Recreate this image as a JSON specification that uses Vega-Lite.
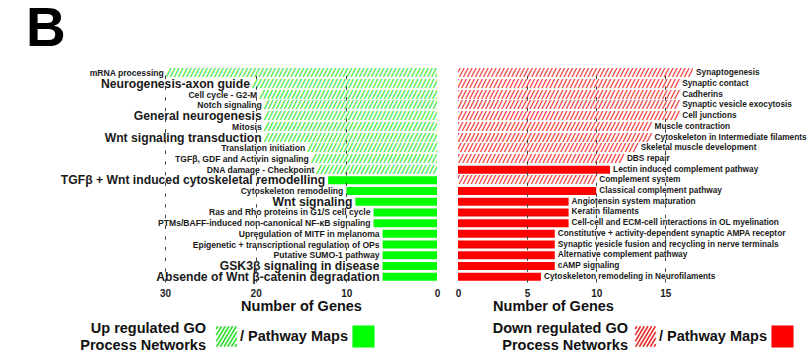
{
  "$schema": "https://vega.github.io/schema/vega-lite/v6.json",
  "autosize": {"type": "none"},
  "padding": {"left": 165, "top": 68, "right": 647, "bottom": 289},
  "background": "white",
  "config": {"view": {"stroke": null}, "font": "Liberation Sans"},
  "title": {"text": "B", "anchor": "start", "frame": "group", "fontSize": 55, "fontWeight": "bold", "font": "Liberation Sans", "color": "#000", "dx": -139, "offset": 10},
  "spacing": 21,
  "bounds": "flush",
  "resolve": {
    "scale": {"x": "independent", "y": "independent", "fill": "independent", "stroke": "independent", "shape": "independent"},
    "legend": {"fill": "independent", "stroke": "independent", "shape": "independent"}
  },
  "hconcat": [
    {
      "width": 272,
      "height": 214,
      "data": {"values": [
        {"name": "mRNA processing", "genes": 29.8, "type": "GO", "emph": false},
        {"name": "Neurogenesis-axon guide", "genes": 20.3, "type": "GO", "emph": true},
        {"name": "Cell cycle - G2-M", "genes": 19.5, "type": "GO", "emph": false},
        {"name": "Notch signaling", "genes": 19, "type": "GO", "emph": false},
        {"name": "General neurogenesis", "genes": 19, "type": "GO", "emph": true},
        {"name": "Mitosis", "genes": 19, "type": "GO", "emph": false},
        {"name": "Wnt signaling transduction", "genes": 19, "type": "GO", "emph": true},
        {"name": "Translation initiation", "genes": 14.2, "type": "GO", "emph": false},
        {"name": "TGFβ, GDF and Activin signaling", "genes": 13.8, "type": "GO", "emph": false},
        {"name": "DNA damage - Checkpoint", "genes": 13.2, "type": "GO", "emph": false},
        {"name": "TGFβ + Wnt induced cytoskeletal remodelling", "genes": 12, "type": "Pathway", "emph": true},
        {"name": "Cytoskeleton remodeling", "genes": 10, "type": "Pathway", "emph": false},
        {"name": "Wnt signaling", "genes": 9, "type": "Pathway", "emph": true},
        {"name": "Ras and Rho proteins in G1/S cell cycle", "genes": 7, "type": "Pathway", "emph": false},
        {"name": "PTMs/BAFF-induced non-canonical NF-κB signaling", "genes": 7, "type": "Pathway", "emph": false},
        {"name": "Upregulation of MITF in melanoma", "genes": 6, "type": "Pathway", "emph": false},
        {"name": "Epigenetic + transcriptional regulation of OPs", "genes": 6, "type": "Pathway", "emph": false},
        {"name": "Putative SUMO-1 pathway", "genes": 6, "type": "Pathway", "emph": false},
        {"name": "GSK3β signaling in disease", "genes": 6, "type": "Pathway", "emph": true},
        {"name": "Absende of Wnt β-catenin degradation", "genes": 6, "type": "Pathway", "emph": true}
      ]},
      "encoding": {
        "y": {"field": "name", "type": "nominal", "sort": null, "axis": null, "scale": {"paddingInner": 0.25, "paddingOuter": 0.125}},
        "x": {
          "field": "genes", "type": "quantitative",
          "scale": {"domain": [0, 30], "reverse": true, "nice": false},
          "axis": {
            "values": [0, 10, 20, 30], "title": "Number of Genes", "grid": true,
            "gridDash": [3.5, 7.2], "gridColor": "#444", "gridWidth": 1,
            "gridOpacity": {"condition": {"test": "datum.value === 0", "value": 0}, "value": 1},
            "ticks": false, "domain": false, "labelFlush": false, "labelOverlap": false,
            "labelFontSize": 10, "labelFont": "Liberation Sans", "labelFontWeight": "bold", "labelColor": "#222", "labelPadding": 6,
            "titleFontSize": 14.5, "titleFontWeight": "bold", "titleFont": "Liberation Sans", "titleColor": "#111", "titlePadding": 1,
            "zindex": 1
          }
        }
      },
      "layer": [
        {
          "mark": {"type": "bar"},
          "encoding": {"fill": {"condition": {"test": "datum.type === 'Pathway'", "value": "#00ff00"}, "value": "transparent"}}
        },
        {
          "mark": {"type": "text", "text": "//////////////////////////////////////////////////////////////////////////////////////////", "align": "left", "baseline": "middle", "clip": true, "font": "DejaVu Sans", "fontWeight": "bold", "fontStyle": "italic", "fontSize": 11, "color": "#33e633"},
          "encoding": {"opacity": {"condition": {"test": "datum.type === 'GO'", "value": 1}, "value": 0}}
        },
        {
          "mark": {"type": "text", "align": "right", "baseline": "middle", "dx": -3, "fontWeight": "bold", "font": "Liberation Sans", "color": "#1a1a1a"},
          "encoding": {
            "text": {"field": "name"},
            "size": {"condition": {"test": "datum.emph", "value": 12.2}, "value": 8.6}
          }
        },
        {
          "mark": {"type": "point", "opacity": 0, "strokeWidth": 1.6},
          "encoding": {
            "fill": {"field": "type", "type": "nominal", "scale": {"domain": ["GO", "Pathway"], "range": ["transparent", "#00ff00"]},
              "legend": {"title": ["Up regulated GO", "Process Networks"], "orient": "none", "legendX": -85, "legendY": 257, "direction": "horizontal", "titleOrient": "left", "titleAlign": "right", "titleAnchor": "middle", "titleBaseline": "middle", "titleFontSize": 14.5, "titleFontWeight": "bold", "titleColor": "#111", "titleLineHeight": 17, "titlePadding": -117, "titleFont": "Liberation Sans", "labelFontSize": 14.5, "labelFontWeight": "bold", "labelColor": "#111", "labelFont": "Liberation Sans", "labelOffset": 2, "symbolSize": 420, "symbolStrokeWidth": 1.6, "symbolOpacity": 1, "columnPadding": 2, "labelExpr": "datum.value == 'GO' ? '/ Pathway Maps' : ''"}},
            "stroke": {"field": "type", "type": "nominal", "scale": {"domain": ["GO", "Pathway"], "range": ["#33dd33", "#00ff00"]},
              "legend": {"title": ["Up regulated GO", "Process Networks"], "orient": "none", "legendX": -85, "legendY": 257, "direction": "horizontal", "titleOrient": "left", "titleAlign": "right", "titleAnchor": "middle", "titleBaseline": "middle", "titleFontSize": 14.5, "titleFontWeight": "bold", "titleColor": "#111", "titleLineHeight": 17, "titlePadding": -117, "titleFont": "Liberation Sans", "labelFontSize": 14.5, "labelFontWeight": "bold", "labelColor": "#111", "labelFont": "Liberation Sans", "labelOffset": 2, "symbolSize": 420, "symbolStrokeWidth": 1.6, "symbolOpacity": 1, "columnPadding": 2, "labelExpr": "datum.value == 'GO' ? '/ Pathway Maps' : ''"}},
            "shape": {"field": "type", "type": "nominal", "scale": {"domain": ["GO", "Pathway"], "range": ["M-1,-0.733L-0.84,-1M-1,-0.133L-0.48,-1M-1,0.467L-0.12,-1M-0.96,1L0.24,-1M-0.6,1L0.6,-1M-0.24,1L0.96,-1M0.12,1L1,-0.467M0.48,1L1,0.133M0.84,1L1,0.733", "square"]},
              "legend": {"title": ["Up regulated GO", "Process Networks"], "orient": "none", "legendX": -85, "legendY": 257, "direction": "horizontal", "titleOrient": "left", "titleAlign": "right", "titleAnchor": "middle", "titleBaseline": "middle", "titleFontSize": 14.5, "titleFontWeight": "bold", "titleColor": "#111", "titleLineHeight": 17, "titlePadding": -117, "titleFont": "Liberation Sans", "labelFontSize": 14.5, "labelFontWeight": "bold", "labelColor": "#111", "labelFont": "Liberation Sans", "labelOffset": 2, "symbolSize": 420, "symbolStrokeWidth": 1.6, "symbolOpacity": 1, "columnPadding": 2, "labelExpr": "datum.value == 'GO' ? '/ Pathway Maps' : ''"}}
          }
        }
      ]
    },
    {
      "width": 235,
      "height": 214,
      "data": {"values": [
        {"name": "Synaptogenesis", "genes": 17, "type": "GO"},
        {"name": "Synaptic contact", "genes": 16, "type": "GO"},
        {"name": "Cadherins", "genes": 16, "type": "GO"},
        {"name": "Synaptic vesicle exocytosis", "genes": 16, "type": "GO"},
        {"name": "Cell junctions", "genes": 16, "type": "GO"},
        {"name": "Muscle contraction", "genes": 14, "type": "GO"},
        {"name": "Cytoskeleton in Intermediate filaments", "genes": 14, "type": "GO"},
        {"name": "Skeletal muscle development", "genes": 13, "type": "GO"},
        {"name": "DBS repair", "genes": 12, "type": "GO"},
        {"name": "Lectin induced complement pathway", "genes": 11, "type": "Pathway"},
        {"name": "Complement system", "genes": 10, "type": "GO"},
        {"name": "Classical complement pathway", "genes": 10, "type": "Pathway"},
        {"name": "Angiotensin system maturation", "genes": 8, "type": "Pathway"},
        {"name": "Keratin filaments", "genes": 8, "type": "Pathway"},
        {"name": "Cell-cell and ECM-cell interactions in OL myelination", "genes": 8, "type": "Pathway"},
        {"name": "Constitutive + activity-dependent synaptic AMPA receptor", "genes": 7, "type": "Pathway"},
        {"name": "Synaptic vesicle fusion and recycling in nerve terminals", "genes": 7, "type": "Pathway"},
        {"name": "Alternative complement pathway", "genes": 7, "type": "Pathway"},
        {"name": "cAMP signaling", "genes": 7, "type": "Pathway"},
        {"name": "Cytoskeleton remodeling in Neurofilaments", "genes": 6, "type": "Pathway"}
      ]},
      "encoding": {
        "y": {"field": "name", "type": "nominal", "sort": null, "axis": null, "scale": {"paddingInner": 0.25, "paddingOuter": 0.125}},
        "x": {
          "field": "genes", "type": "quantitative",
          "scale": {"domain": [0, 17], "nice": false},
          "axis": {
            "values": [0, 5, 10, 15], "title": "Number of Genes", "grid": true,
            "gridDash": [3.5, 7.2], "gridColor": "#444", "gridWidth": 1,
            "gridOpacity": {"condition": {"test": "datum.value === 0", "value": 0}, "value": 1},
            "ticks": false, "domain": false, "labelFlush": false, "labelOverlap": false,
            "labelFontSize": 10, "labelFont": "Liberation Sans", "labelFontWeight": "bold", "labelColor": "#222", "labelPadding": 6,
            "titleFontSize": 14.5, "titleFontWeight": "bold", "titleFont": "Liberation Sans", "titleColor": "#111", "titlePadding": 1, "titleX": 95,
            "zindex": 1
          }
        }
      },
      "layer": [
        {
          "mark": {"type": "bar"},
          "encoding": {"fill": {"condition": {"test": "datum.type === 'Pathway'", "value": "#ff0000"}, "value": "transparent"}}
        },
        {
          "mark": {"type": "text", "text": "//////////////////////////////////////////////////////////////////////////////////////////", "align": "right", "baseline": "middle", "clip": true, "font": "DejaVu Sans", "fontWeight": "bold", "fontStyle": "italic", "fontSize": 11, "color": "#ee3333"},
          "encoding": {"opacity": {"condition": {"test": "datum.type === 'GO'", "value": 1}, "value": 0}}
        },
        {
          "mark": {"type": "text", "align": "left", "baseline": "middle", "dx": 3, "fontWeight": "bold", "font": "Liberation Sans", "fontSize": 8.3, "color": "#1a1a1a"},
          "encoding": {"text": {"field": "name"}}
        },
        {
          "mark": {"type": "point", "opacity": 0, "strokeWidth": 1.6},
          "encoding": {
            "fill": {"field": "type", "type": "nominal", "scale": {"domain": ["GO", "Pathway"], "range": ["transparent", "#ff0000"]},
              "legend": {"title": ["Down regulated GO", "Process Networks"], "orient": "none", "legendX": 35, "legendY": 257, "direction": "horizontal", "titleOrient": "left", "titleAlign": "right", "titleAnchor": "middle", "titleBaseline": "middle", "titleFontSize": 14.5, "titleFontWeight": "bold", "titleColor": "#111", "titleLineHeight": 17, "titlePadding": -130, "titleFont": "Liberation Sans", "labelFontSize": 14.5, "labelFontWeight": "bold", "labelColor": "#111", "labelFont": "Liberation Sans", "labelOffset": 2, "symbolSize": 420, "symbolStrokeWidth": 1.6, "symbolOpacity": 1, "columnPadding": 2, "labelExpr": "datum.value == 'GO' ? '/ Pathway Maps' : ''"}},
            "stroke": {"field": "type", "type": "nominal", "scale": {"domain": ["GO", "Pathway"], "range": ["#e83333", "#ff0000"]},
              "legend": {"title": ["Down regulated GO", "Process Networks"], "orient": "none", "legendX": 35, "legendY": 257, "direction": "horizontal", "titleOrient": "left", "titleAlign": "right", "titleAnchor": "middle", "titleBaseline": "middle", "titleFontSize": 14.5, "titleFontWeight": "bold", "titleColor": "#111", "titleLineHeight": 17, "titlePadding": -130, "titleFont": "Liberation Sans", "labelFontSize": 14.5, "labelFontWeight": "bold", "labelColor": "#111", "labelFont": "Liberation Sans", "labelOffset": 2, "symbolSize": 420, "symbolStrokeWidth": 1.6, "symbolOpacity": 1, "columnPadding": 2, "labelExpr": "datum.value == 'GO' ? '/ Pathway Maps' : ''"}},
            "shape": {"field": "type", "type": "nominal", "scale": {"domain": ["GO", "Pathway"], "range": ["M-1,-0.733L-0.84,-1M-1,-0.133L-0.48,-1M-1,0.467L-0.12,-1M-0.96,1L0.24,-1M-0.6,1L0.6,-1M-0.24,1L0.96,-1M0.12,1L1,-0.467M0.48,1L1,0.133M0.84,1L1,0.733", "square"]},
              "legend": {"title": ["Down regulated GO", "Process Networks"], "orient": "none", "legendX": 35, "legendY": 257, "direction": "horizontal", "titleOrient": "left", "titleAlign": "right", "titleAnchor": "middle", "titleBaseline": "middle", "titleFontSize": 14.5, "titleFontWeight": "bold", "titleColor": "#111", "titleLineHeight": 17, "titlePadding": -130, "titleFont": "Liberation Sans", "labelFontSize": 14.5, "labelFontWeight": "bold", "labelColor": "#111", "labelFont": "Liberation Sans", "labelOffset": 2, "symbolSize": 420, "symbolStrokeWidth": 1.6, "symbolOpacity": 1, "columnPadding": 2, "labelExpr": "datum.value == 'GO' ? '/ Pathway Maps' : ''"}}
          }
        }
      ]
    }
  ]
}
